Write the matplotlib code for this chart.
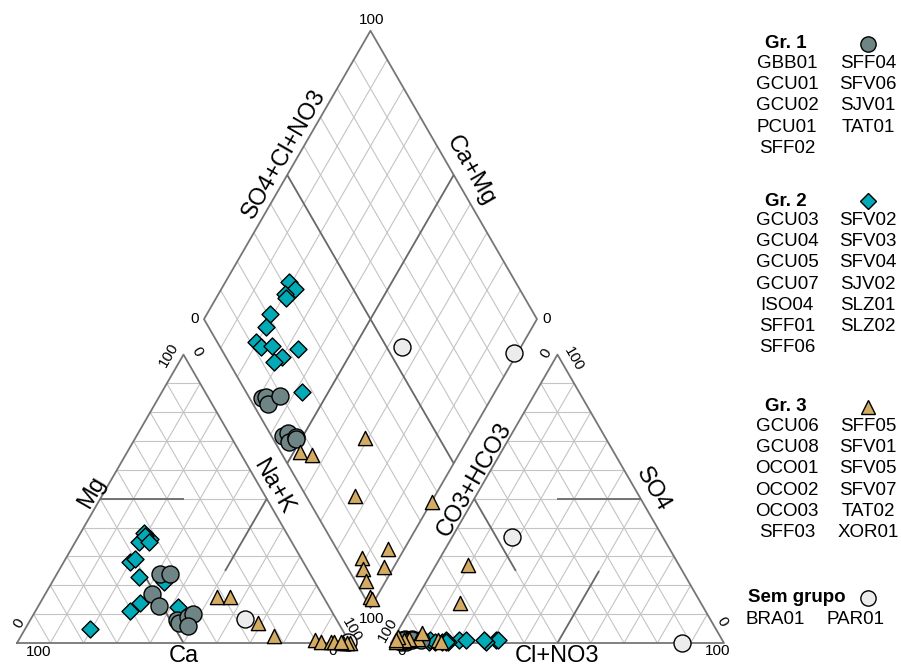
import numpy as np
import matplotlib
matplotlib.use("Agg")
import matplotlib.pyplot as plt

plt.rcParams["font.family"] = ["Liberation Sans", "DejaVu Sans"]

# ---- sample composition (% meq), per group ----
gr1_names = ["GBB01", "GCU01", "GCU02", "PCU01", "SFF02",
             "SFF04", "SFV06", "SJV01", "TAT01"]
gr1_ca = [45, 51, 42, 51, 48, 48, 44, 42, 45.5]
gr1_mg = [24, 17, 24, 13, 8, 7, 9, 10, 6]
gr1_nak = [31, 32, 34, 36, 44, 45, 47, 48, 48.5]
gr1_hco3 = [96.3, 95.0, 95.3, 90.6, 96.6, 94.5, 95.7, 93.0, 93.1]
gr1_so4 = [1.0, 1.5, 0.5, 1.0, 0.5, 1.0, 1.0, 1.5, 1.0]
gr1_cl = [2.7, 3.5, 4.2, 8.4, 2.9, 4.5, 3.3, 5.5, 5.9]

gr2_names = ["GCU03", "GCU04", "GCU05", "GCU07", "ISO04", "SFF01", "SFF06",
             "SFV02", "SFV03", "SFV04", "SJV02", "SLZ01", "SLZ02"]
gr2_ca = [46, 42, 52, 50, 43, 43, 75.5, 43, 52, 56, 60.5, 45.5, 45.5]
gr2_mg = [35, 36, 28, 29, 38, 37, 5, 35, 23, 14, 11, 21, 12.5]
gr2_nak = [19, 22, 20, 21, 19, 20, 19.5, 22, 25, 30, 28.5, 33.5, 42]
gr2_hco3 = [68.1, 67.5, 71.2, 71.7, 79.2, 82.7, 88.3, 87.7, 84.3, 83.0, 86.5, 77.0, 83.3]
gr2_so4 = [1.0, 1.0, 0.5, 1.0, 1.0, 0.5, 0.5, 1.0, 0.5, 1.0, 0.5, 1.0, 0.5]
gr2_cl = [30.9, 31.5, 28.3, 27.3, 19.8, 16.8, 11.2, 11.3, 15.2, 16.0, 13.0, 22.0, 16.2]

gr3_names = ["GCU06", "GCU08", "OCO01", "OCO02", "OCO03", "SFF03",
             "SFF05", "SFV01", "SFV05", "SFV07", "TAT02", "XOR01"]
gr3_ca = [32, 28, 24, 21.6, 10, 8.5, 5.5, 2, 0, 4.5, 1, 2.5]
gr3_mg = [16, 16, 7, 2.4, 1, 0.5, 0.5, 0, 0, 0.5, 0, 0.5]
gr3_nak = [52, 56, 69, 76, 89, 91, 94, 98, 100, 95, 99, 97]
gr3_hco3 = [94.2, 91.0, 72.3, 85.4, 93.8, 95.6, 96.9, 98.3, 63.3, 84.7, 98.0, 89.0]
gr3_so4 = [1.0, 1.5, 13.8, 1.0, 1.5, 1.0, 2.0, 0.5, 27.0, 0.5, 1.0, 3.5]
gr3_cl = [4.8, 7.5, 13.9, 13.6, 4.7, 3.4, 1.1, 1.2, 9.7, 14.8, 1.0, 7.5]

sg_names = ["BRA01", "PAR01"]
sg_ca = [27.4, 0.5]
sg_mg = [8.2, 0.5]
sg_nak = [64.4, 99.0]
sg_hco3 = [45.4, 12.7]
sg_so4 = [36.6, 0.0]
sg_cl = [18.0, 87.3]

GAP = 0.123
H = np.sqrt(3) / 2


def cation_xy(ca, mg, nak):
    ca, mg, nak = (np.asarray(a, float) for a in (ca, mg, nak))
    t = ca + mg + nak
    mg, nak = mg / t, nak / t
    return nak + 0.5 * mg, H * mg


def anion_xy(hco3, so4, cl):
    hco3, so4, cl = (np.asarray(a, float) for a in (hco3, so4, cl))
    t = hco3 + so4 + cl
    so4, cl = so4 / t, cl / t
    return 1 + GAP + cl + 0.5 * so4, H * so4


def diamond_xy(ca, mg, nak, hco3, so4, cl):
    ca, mg, nak, hco3, so4, cl = (np.asarray(a, float) for a in (ca, mg, nak, hco3, so4, cl))
    camg = (ca + mg) / (ca + mg + nak)
    an = (so4 + cl) / (hco3 + so4 + cl)
    return 1 + GAP / 2 + 0.5 * (an - camg), H * (GAP + camg + an)


fig = plt.figure(figsize=(9.01, 6.68), dpi=100)
ax = fig.add_axes([0, 0, 1, 1])
ax.set_xlim(-17 / 333, 884 / 333)
ax.set_ylim(-25 / 333, 643 / 333)
ax.axis("off")

FRAME = "#767676"
GRID = "#c4c4c4"
CLASS = "#6a6a6a"


def seg(p, q, **kw):
    ax.plot([p[0], q[0]], [p[1], q[1]], solid_capstyle="butt", **kw)


ticks = np.arange(1, 10) / 10
gkw = dict(color=GRID, lw=0.8, zorder=1)

# cation triangle grid
for t in ticks:
    seg(cation_xy(1 - t, t, 0), cation_xy(0, t, 1 - t), **gkw)
    seg(cation_xy(t, 1 - t, 0), cation_xy(t, 0, 1 - t), **gkw)
    seg(cation_xy(1 - t, 0, t), cation_xy(0, 1 - t, t), **gkw)
# anion triangle grid
for t in ticks:
    seg(anion_xy(1 - t, t, 0), anion_xy(0, t, 1 - t), **gkw)
    seg(anion_xy(t, 1 - t, 0), anion_xy(t, 0, 1 - t), **gkw)
    seg(anion_xy(1 - t, 0, t), anion_xy(0, 1 - t, t), **gkw)
# diamond grid
for t in ticks:
    seg(diamond_xy(t, 0, 1 - t, 1, 0, 0), diamond_xy(t, 0, 1 - t, 0, 0, 1), **gkw)
    seg(diamond_xy(0, 0, 1, 1 - t, 0, t), diamond_xy(1, 0, 0, 1 - t, 0, t), **gkw)

# frames
fkw = dict(color=FRAME, lw=1.3, zorder=2)
cv = [cation_xy(1, 0, 0), cation_xy(0, 0, 1), cation_xy(0, 1, 0)]
av = [anion_xy(1, 0, 0), anion_xy(0, 0, 1), anion_xy(0, 1, 0)]
dv = [diamond_xy(0, 0, 1, 1, 0, 0), diamond_xy(0, 0, 1, 0, 0, 1),
      diamond_xy(1, 0, 0, 0, 0, 1), diamond_xy(1, 0, 0, 1, 0, 0)]
for poly in (cv, av, dv):
    xs = [p[0] for p in poly] + [poly[0][0]]
    ys = [p[1] for p in poly] + [poly[0][1]]
    ax.plot(xs, ys, **fkw)

# facies dividing lines
ckw = dict(color=CLASS, lw=1.3, zorder=2)
seg(cation_xy(.5, .5, 0), cation_xy(.25, .5, .25), **ckw)
seg(cation_xy(0, .5, .5), cation_xy(.25, .25, .5), **ckw)
seg(cation_xy(.5, 0, .5), cation_xy(.5, .25, .25), **ckw)
seg(anion_xy(0, .5, .5), anion_xy(.25, .5, .25), **ckw)
seg(anion_xy(.5, 0, .5), anion_xy(.25, .25, .5), **ckw)
seg(anion_xy(.5, .5, 0), anion_xy(.5, .25, .25), **ckw)
seg(diamond_xy(.5, 0, .5, 1, 0, 0), diamond_xy(.5, 0, .5, 0, 0, 1), **ckw)
seg(diamond_xy(0, 0, 1, .5, 0, .5), diamond_xy(1, 0, 0, .5, 0, .5), **ckw)


# text placed next to a diagram point, offsets given in pixels
def plabel(txt, p, dx, dy, rot=0, size=11, va="center"):
    ax.annotate(txt, xy=p, xytext=(dx / 1.389, dy / 1.389), textcoords="offset points",
                ha="center", va=va, rotation=rot, fontsize=size, color="black")


# tick labels at the vertices
plabel("100", cv[0], 22, -9)
plabel("0", cv[0], 2, 20, 60)
plabel("100", cv[2], -15, 0, 60)
plabel("0", cv[2], 13, 3, -60)
plabel("100", cv[1], 2, 13, -60)
plabel("0", cv[1], -17, -8)
plabel("100", av[0], -3, 13, 60)
plabel("0", av[0], 11, -8)
plabel("0", av[2], -11, 1, 60)
plabel("100", av[2], 16, -4, -60)
plabel("0", av[1], -2, 21, -60)
plabel("100", av[1], -6, -8)
plabel("100", dv[0], 1, -11)
plabel("0", dv[1], 10, 0)
plabel("100", dv[2], 1, 11)
plabel("0", dv[3], -9, 0)

# axis titles
plabel("Ca", cation_xy(.5, 0, .5), 0, -24.5, size=17, va="bottom")
plabel("Mg", cation_xy(.5, .5, 0), -8, 7, 60, size=17)
plabel("Na+K", cation_xy(0, .5, .5), 6, 12, -60, size=17)
plabel("Cl+NO3", anion_xy(.5, 0, .5), 0, -24.5, size=17, va="bottom")
plabel("CO3+HCO3", anion_xy(.5, .5, 0), 0, 19, 60, size=17)
plabel("SO4", anion_xy(0, .5, .5), 12, 9, -60, size=17)
plabel("SO4+Cl+NO3", diamond_xy(1, 0, 0, .5, 0, .5), -3, 21, 60, size=17)
plabel("Ca+Mg", diamond_xy(.5, 0, .5, 0, 0, 1), 17, 4, -60, size=17)

# samples
groups = [
    (sg_ca, sg_mg, sg_nak, sg_hco3, sg_so4, sg_cl, dict(marker="o", s=150, c="#ececec")),
    (gr2_ca, gr2_mg, gr2_nak, gr2_hco3, gr2_so4, gr2_cl, dict(marker="D", s=75, c="#00abb7")),
    (gr1_ca, gr1_mg, gr1_nak, gr1_hco3, gr1_so4, gr1_cl, dict(marker="o", s=150, c="#6f8585")),
    (gr3_ca, gr3_mg, gr3_nak, gr3_hco3, gr3_so4, gr3_cl, dict(marker="^", s=105, c="#d4ab62")),
]
for ca, mg, nak, hco3, so4, cl, style in groups:
    for xy in (cation_xy(ca, mg, nak), anion_xy(hco3, so4, cl),
               diamond_xy(ca, mg, nak, hco3, so4, cl)):
        ax.scatter(*xy, edgecolors="black", linewidths=1.0, zorder=5, **style)


# group legend on the right (pixel positions)
def ftext(x, y, s, **kw):
    fig.text(x / 901, 1 - y / 668, s, ha="center", va="center", fontsize=13.5, **kw)


def fmark(x, y, **kw):
    fig.add_artist(plt.Line2D([x / 901], [1 - y / 668], transform=fig.transFigure,
                              markeredgecolor="black", markeredgewidth=1.0, **kw))


legend = [("Gr. 1", gr1_names, 44, dict(marker="o", markersize=11, markerfacecolor="#6f8585")),
          ("Gr. 2", gr2_names, 201, dict(marker="D", markersize=8, markerfacecolor="#00abb7")),
          ("Gr. 3", gr3_names, 407, dict(marker="^", markersize=10, markerfacecolor="#d4ab62"))]
for title, names, y0, mk in legend:
    ftext(786, y0, title, fontweight="bold")
    fmark(868, y0, **mk)
    half = (len(names) + 1) // 2
    for i, n in enumerate(names[:half]):
        ftext(787, y0 + 19.5 + 21.2 * i, n)
    for i, n in enumerate(names[half:]):
        ftext(868, y0 + 19.5 + 21.2 * i, n)

fig.text(748 / 901, 1 - 598 / 668, "Sem grupo", ha="left", va="center",
         fontsize=13.5, fontweight="bold")
fmark(868, 598, marker="o", markersize=11, markerfacecolor="#ececec")
ftext(775, 620, sg_names[0])
ftext(856, 620, sg_names[1])

fig.savefig("out.png", dpi=100)
